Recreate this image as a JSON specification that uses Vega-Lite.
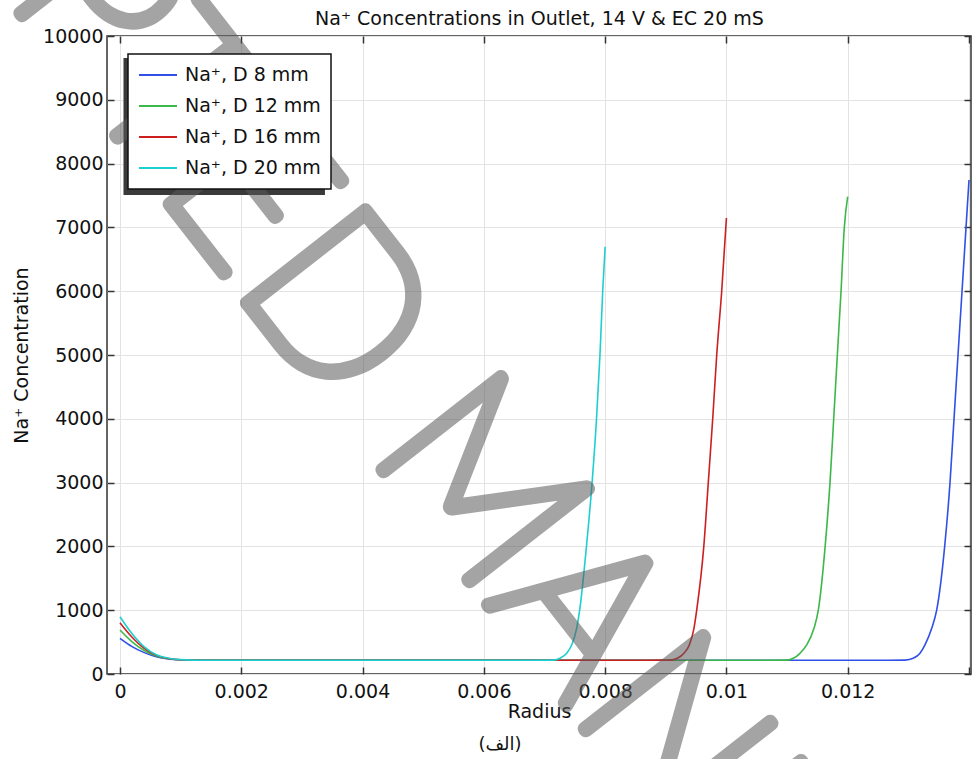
{
  "$schema": "https://vega.github.io/schema/vega-lite/v6.json",
  "width": 864,
  "height": 638,
  "autosize": {"type": "none"},
  "padding": {"left": 107, "top": 36, "right": 1, "bottom": 85},
  "background": "white",
  "config": {
    "font": "DejaVu Sans",
    "view": {"stroke": "#333", "strokeWidth": 1.5},
    "legend": {"strokeWidth": 1.5},
    "axis": {"labelColor": "#111", "labelFontSize": 19, "titleFontSize": 19, "titleFontWeight": "normal", "titleColor": "#111", "tickColor": "#333", "tickWidth": 1.5, "gridColor": "#e3e3e3", "gridWidth": 1, "domain": false, "labelOverlap": false, "labelFlush": false, "labelBound": false}
  },
  "resolve": {"axis": {"x": "independent", "y": "independent"}},
  "layer": [
    {
      "data": {"values": [{"note": "legend shadow"}]},
      "mark": {"type": "rect", "fill": "#3a3a3a"},
      "encoding": {
        "x": {"datum": 0.0000577, "type": "quantitative", "axis": null},
        "x2": {"datum": 0.00338},
        "y": {"datum": 9655, "type": "quantitative", "axis": null},
        "y2": {"datum": 7508}
      }
    },
    {
      "data": {"values": [
        {"series": "Na⁺, D 8 mm", "r": 0, "c": 560}, {"series": "Na⁺, D 8 mm", "r": 0.0002, "c": 430}, {"series": "Na⁺, D 8 mm", "r": 0.0004, "c": 335}, {"series": "Na⁺, D 8 mm", "r": 0.0006, "c": 270}, {"series": "Na⁺, D 8 mm", "r": 0.0008, "c": 236}, {"series": "Na⁺, D 8 mm", "r": 0.001, "c": 222}, {"series": "Na⁺, D 8 mm", "r": 0.0012, "c": 217}, {"series": "Na⁺, D 8 mm", "r": 0.0015, "c": 215}, {"series": "Na⁺, D 8 mm", "r": 0.004, "c": 215}, {"series": "Na⁺, D 8 mm", "r": 0.008, "c": 215}, {"series": "Na⁺, D 8 mm", "r": 0.0125, "c": 215}, {"series": "Na⁺, D 8 mm", "r": 0.012945, "c": 218}, {"series": "Na⁺, D 8 mm", "r": 0.013081, "c": 246}, {"series": "Na⁺, D 8 mm", "r": 0.013192, "c": 324}, {"series": "Na⁺, D 8 mm", "r": 0.013274, "c": 455}, {"series": "Na⁺, D 8 mm", "r": 0.013385, "c": 716}, {"series": "Na⁺, D 8 mm", "r": 0.013467, "c": 1000}, {"series": "Na⁺, D 8 mm", "r": 0.013599, "c": 2000}, {"series": "Na⁺, D 8 mm", "r": 0.013687, "c": 3000}, {"series": "Na⁺, D 8 mm", "r": 0.013753, "c": 4000}, {"series": "Na⁺, D 8 mm", "r": 0.013819, "c": 5000}, {"series": "Na⁺, D 8 mm", "r": 0.013885, "c": 6000}, {"series": "Na⁺, D 8 mm", "r": 0.013951, "c": 7000}, {"series": "Na⁺, D 8 mm", "r": 0.014, "c": 7743},
        {"series": "Na⁺, D 12 mm", "r": 0, "c": 690}, {"series": "Na⁺, D 12 mm", "r": 0.0002, "c": 505}, {"series": "Na⁺, D 12 mm", "r": 0.0004, "c": 368}, {"series": "Na⁺, D 12 mm", "r": 0.0006, "c": 282}, {"series": "Na⁺, D 12 mm", "r": 0.0008, "c": 240}, {"series": "Na⁺, D 12 mm", "r": 0.001, "c": 223}, {"series": "Na⁺, D 12 mm", "r": 0.0012, "c": 217}, {"series": "Na⁺, D 12 mm", "r": 0.0015, "c": 215}, {"series": "Na⁺, D 12 mm", "r": 0.004, "c": 215}, {"series": "Na⁺, D 12 mm", "r": 0.008, "c": 215}, {"series": "Na⁺, D 12 mm", "r": 0.0105, "c": 215}, {"series": "Na⁺, D 12 mm", "r": 0.010994, "c": 218}, {"series": "Na⁺, D 12 mm", "r": 0.011103, "c": 246}, {"series": "Na⁺, D 12 mm", "r": 0.011213, "c": 324}, {"series": "Na⁺, D 12 mm", "r": 0.011324, "c": 455}, {"series": "Na⁺, D 12 mm", "r": 0.011444, "c": 716}, {"series": "Na⁺, D 12 mm", "r": 0.011515, "c": 1000}, {"series": "Na⁺, D 12 mm", "r": 0.011628, "c": 2000}, {"series": "Na⁺, D 12 mm", "r": 0.011708, "c": 3000}, {"series": "Na⁺, D 12 mm", "r": 0.011769, "c": 4000}, {"series": "Na⁺, D 12 mm", "r": 0.011829, "c": 5000}, {"series": "Na⁺, D 12 mm", "r": 0.01189, "c": 6000}, {"series": "Na⁺, D 12 mm", "r": 0.011944, "c": 7000}, {"series": "Na⁺, D 12 mm", "r": 0.012, "c": 7481},
        {"series": "Na⁺, D 16 mm", "r": 0, "c": 804}, {"series": "Na⁺, D 16 mm", "r": 0.0002, "c": 575}, {"series": "Na⁺, D 16 mm", "r": 0.0004, "c": 400}, {"series": "Na⁺, D 16 mm", "r": 0.0006, "c": 292}, {"series": "Na⁺, D 16 mm", "r": 0.0008, "c": 244}, {"series": "Na⁺, D 16 mm", "r": 0.001, "c": 224}, {"series": "Na⁺, D 16 mm", "r": 0.0012, "c": 218}, {"series": "Na⁺, D 16 mm", "r": 0.0015, "c": 215}, {"series": "Na⁺, D 16 mm", "r": 0.004, "c": 215}, {"series": "Na⁺, D 16 mm", "r": 0.008, "c": 215}, {"series": "Na⁺, D 16 mm", "r": 0.0086, "c": 215}, {"series": "Na⁺, D 16 mm", "r": 0.00907, "c": 218}, {"series": "Na⁺, D 16 mm", "r": 0.00919, "c": 246}, {"series": "Na⁺, D 16 mm", "r": 0.0093, "c": 324}, {"series": "Na⁺, D 16 mm", "r": 0.009388, "c": 455}, {"series": "Na⁺, D 16 mm", "r": 0.009465, "c": 716}, {"series": "Na⁺, D 16 mm", "r": 0.00951, "c": 1000}, {"series": "Na⁺, D 16 mm", "r": 0.009627, "c": 2000}, {"series": "Na⁺, D 16 mm", "r": 0.009701, "c": 3000}, {"series": "Na⁺, D 16 mm", "r": 0.009774, "c": 4000}, {"series": "Na⁺, D 16 mm", "r": 0.00984, "c": 5000}, {"series": "Na⁺, D 16 mm", "r": 0.009922, "c": 6000}, {"series": "Na⁺, D 16 mm", "r": 0.01, "c": 7147},
        {"series": "Na⁺, D 20 mm", "r": 0, "c": 898}, {"series": "Na⁺, D 20 mm", "r": 0.0002, "c": 630}, {"series": "Na⁺, D 20 mm", "r": 0.0004, "c": 425}, {"series": "Na⁺, D 20 mm", "r": 0.0006, "c": 302}, {"series": "Na⁺, D 20 mm", "r": 0.0008, "c": 248}, {"series": "Na⁺, D 20 mm", "r": 0.001, "c": 226}, {"series": "Na⁺, D 20 mm", "r": 0.0012, "c": 218}, {"series": "Na⁺, D 20 mm", "r": 0.0015, "c": 215}, {"series": "Na⁺, D 20 mm", "r": 0.004, "c": 215}, {"series": "Na⁺, D 20 mm", "r": 0.0067, "c": 215}, {"series": "Na⁺, D 20 mm", "r": 0.007145, "c": 218}, {"series": "Na⁺, D 20 mm", "r": 0.007256, "c": 246}, {"series": "Na⁺, D 20 mm", "r": 0.007366, "c": 324}, {"series": "Na⁺, D 20 mm", "r": 0.007448, "c": 455}, {"series": "Na⁺, D 20 mm", "r": 0.007531, "c": 716}, {"series": "Na⁺, D 20 mm", "r": 0.00758, "c": 1000}, {"series": "Na⁺, D 20 mm", "r": 0.007692, "c": 2000}, {"series": "Na⁺, D 20 mm", "r": 0.007785, "c": 3000}, {"series": "Na⁺, D 20 mm", "r": 0.007858, "c": 4000}, {"series": "Na⁺, D 20 mm", "r": 0.007915, "c": 5000}, {"series": "Na⁺, D 20 mm", "r": 0.00796, "c": 6000}, {"series": "Na⁺, D 20 mm", "r": 0.008, "c": 6697}
      ]},
      "mark": {"type": "line", "interpolate": "monotone", "strokeWidth": 1.6},
      "encoding": {
        "x": {"field": "r", "type": "quantitative", "scale": {"domain": [-0.000214, 0.014033], "nice": false, "zero": false},
          "axis": {"orient": "bottom", "values": [0, 0.002, 0.004, 0.006, 0.008, 0.01, 0.012, 0.014], "format": "~g", "labelExpr": "datum.value > 0.0139 ? '' : datum.label", "title": "Radius", "grid": true, "tickSize": -7, "labelPadding": 15, "titlePadding": 1}},
        "y": {"field": "c", "type": "quantitative", "scale": {"domain": [0, 10000], "nice": false, "zero": false},
          "axis": {"orient": "left", "values": [0, 1000, 2000, 3000, 4000, 5000, 6000, 7000, 8000, 9000, 10000], "format": "d", "title": "Na⁺ Concentration", "grid": true, "tickSize": -7, "labelPadding": 11, "titlePadding": 11}},
        "color": {"field": "series", "type": "nominal",
          "scale": {"domain": ["Na⁺, D 8 mm", "Na⁺, D 12 mm", "Na⁺, D 16 mm", "Na⁺, D 20 mm"], "range": ["#3050e8", "#3cb84a", "#cc2020", "#1ecfcf"]},
          "legend": {"orient": "none", "legendX": 21, "legendY": 18, "title": null, "strokeColor": "#111", "fillColor": "#fff", "padding": 10, "symbolType": "stroke", "symbolSize": 1444, "symbolStrokeWidth": 2, "labelFontSize": 19, "labelColor": "#111", "labelOffset": 7, "clipHeight": 22, "rowPadding": 9}}
      }
    },
    {
      "data": {"values": [{"note": "caption"}]},
      "mark": {"type": "text", "text": "(الف)", "fontSize": 18, "color": "#111", "align": "center", "baseline": "middle", "font": "DejaVu Sans"},
      "encoding": {
        "x": {"datum": 0.006266, "type": "quantitative", "axis": {"orient": "top", "values": [0, 0.002, 0.004, 0.006, 0.008, 0.01, 0.012, 0.014], "labels": false, "grid": false, "tickSize": -7, "title": "Na⁺ Concentrations in Outlet, 14 V & EC 20 mS", "titlePadding": 7}},
        "y": {"datum": -1113, "type": "quantitative", "axis": {"orient": "right", "values": [0, 1000, 2000, 3000, 4000, 5000, 6000, 7000, 8000, 9000, 10000], "labels": false, "grid": false, "tickSize": -7, "title": null}}
      }
    },
    {
      "data": {"values": [{"note": "watermark"}]},
      "mark": {"type": "text", "text": "MANUSCRIPT", "angle": 52, "align": "left", "baseline": "alphabetic", "font": "Lato", "fontWeight": 100, "fontSize": 215, "fill": "#5a5a5a", "stroke": "#5a5a5a", "strokeWidth": 14, "strokeJoin": "round", "opacity": 0.55},
      "encoding": {
        "x": {"datum": 0.004073, "type": "quantitative", "axis": null},
        "y": {"datum": 3511, "type": "quantitative", "axis": null}
      }
    },
    {
      "data": {"values": [{"note": "watermark"}]},
      "mark": {"type": "text", "text": "ACCEPTED", "angle": 52, "align": "right", "baseline": "alphabetic", "font": "Lato", "fontWeight": 100, "fontSize": 215, "fill": "#5a5a5a", "stroke": "#5a5a5a", "strokeWidth": 14, "strokeJoin": "round", "opacity": 0.55},
      "encoding": {
        "x": {"datum": 0.003496, "type": "quantitative", "axis": null},
        "y": {"datum": 4107, "type": "quantitative", "axis": null}
      }
    }
  ]
}
